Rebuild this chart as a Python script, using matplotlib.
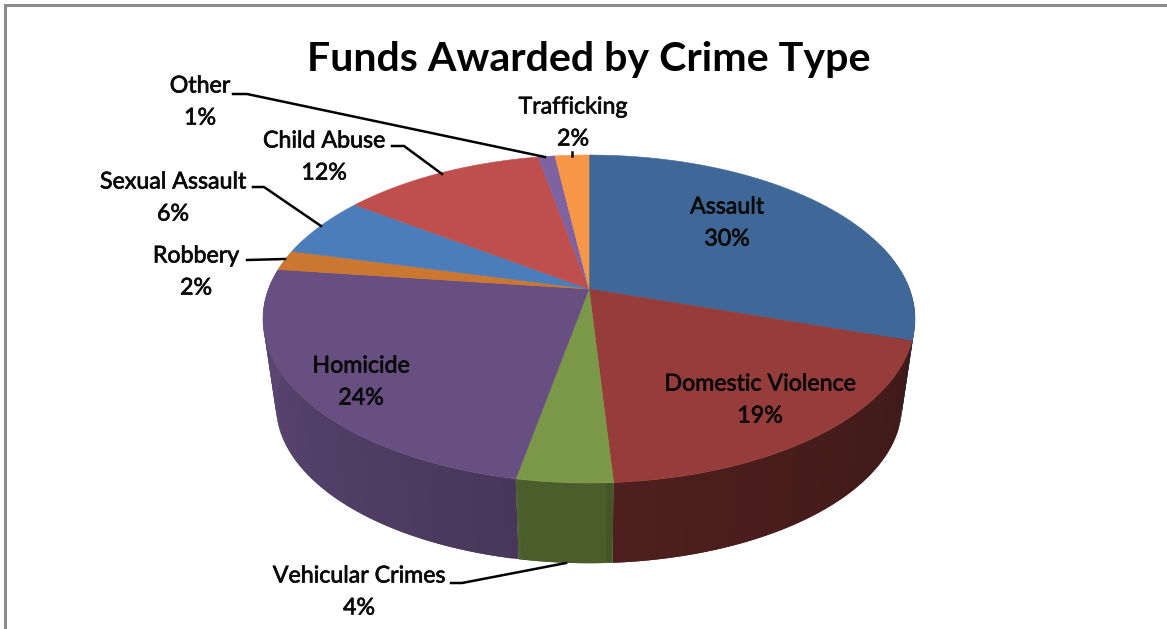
import numpy as np
import matplotlib
matplotlib.use("Agg")
import matplotlib.pyplot as plt
import matplotlib.patheffects as pe
from matplotlib.collections import PolyCollection

plt.rcParams["font.family"] = ["Lato", "DejaVu Sans"]

# clockwise from 12 o'clock
categories = ["Assault", "Domestic Violence", "Vehicular Crimes", "Homicide", "Robbery",
              "Sexual Assault", "Child Abuse", "Other", "Trafficking"]
percent = [30, 19, 4, 24, 2, 6, 12, 1, 2]
top_colors = ["#3F6898", "#963C3B", "#7A9847", "#674F81", "#CB7732",
              "#4B7DBB", "#BE4F4C", "#7F63A1", "#F79646"]

# label centres in pixels
label_pos = {
    "Assault": (727, 223), "Domestic Violence": (760, 400), "Vehicular Crimes": (359, 592),
    "Homicide": (361, 382), "Robbery": (196, 272), "Sexual Assault": (173, 198),
    "Child Abuse": (324, 157), "Other": (200, 102), "Trafficking": (573, 123),
}
leaders = [
    [(233, 94), (247, 94), (545, 157)],
    [(392, 146), (404, 146), (442, 174)],
    [(253, 187), (264, 187), (321, 226)],
    [(247, 260), (285, 259)],
    [(451, 583), (462, 583), (566, 563)],
    [(572, 152), (572, 156)],
]


def project(t, scale=1.0, y0=289.0):
    # perspective view of the pie circle, t in degrees clockwise from top
    k = 0.183
    u, v = np.sin(np.radians(t)), np.cos(np.radians(t))
    den = 1 + k * v
    return 589 + scale * 320.5 * u / den, y0 - scale * 158.5 * v / den


def shade(color, t):
    # wall gets darker towards the right
    r = np.array(matplotlib.colors.to_rgb(color))
    f = np.interp(t, [108, 176, 177, 190, 191, 270], [0.42, 0.52, 0.61, 0.61, 0.70, 0.9])
    return tuple(r * f)


fig = plt.figure(figsize=(11.67, 6.29), dpi=100)
ax = fig.add_axes([0, 0, 1, 1])
ax.set_xlim(0, 1167)
ax.set_ylim(629, 0)
ax.axis("off")

# frame on top and left only
ax.plot([5, 5, 1167], [629, 5, 5], color="#8C8C8C", lw=2.2, solid_joinstyle="miter")

edges = np.cumsum([0] + percent) * 3.6

# side wall, strips overlap so no seams show
polys, cols = [], []
for i, col in enumerate(top_colors):
    for t in np.arange(edges[i], edges[i + 1], 1.0):
        t2 = min(t + 2.0, edges[i + 1])
        if np.cos(np.radians(t)) > 0.3:
            continue
        x1, y1 = project(t)
        x2, y2 = project(t2)
        x3, y3 = project(t2, 0.96, 377)
        x4, y4 = project(t, 0.96, 377)
        polys.append([(x1, y1), (x2, y2), (x3, y3), (x4, y4)])
        cols.append(shade(col, t))
ax.add_collection(PolyCollection(polys, facecolors=cols, edgecolors="none"))

# top face
for i, col in enumerate(top_colors):
    ts = np.linspace(edges[i], edges[i + 1], 80)
    xs, ys = project(ts)
    ax.fill(np.r_[589, xs], np.r_[289, ys], color=col, lw=0.4)

for pts in leaders:
    xs, ys = zip(*pts)
    ax.plot(xs, ys, color="black", lw=1.8)

for name, val in zip(categories, percent):
    x, y = label_pos[name]
    ax.text(x, y, f"{name}\n{val}%", ha="center", va="center", fontsize=16.7,
            linespacing=1.65, color="#0A0A0A",
            path_effects=[pe.withStroke(linewidth=0.5, foreground="#0A0A0A")])

ax.text(589, 59, "Funds Awarded by Crime Type", ha="center", va="center",
        fontsize=29.6, fontweight="bold", color="black")

fig.savefig("out.png", dpi=100)
